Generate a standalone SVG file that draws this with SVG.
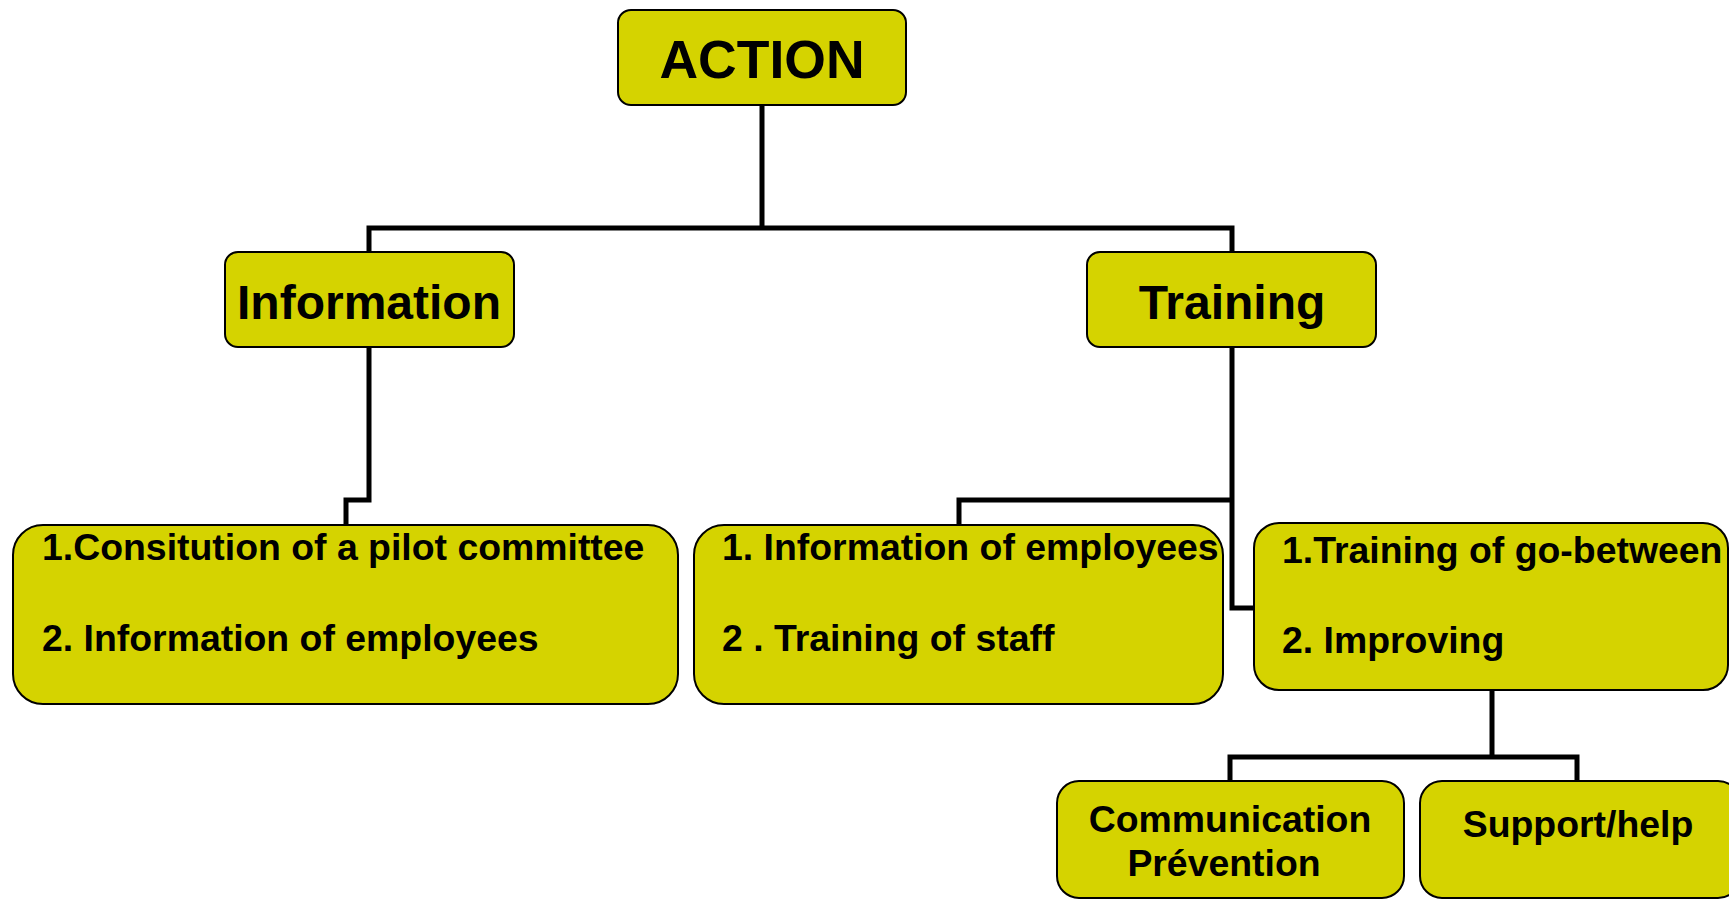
<svg xmlns="http://www.w3.org/2000/svg" width="1729" height="900" viewBox="0 0 1729 900">
<style>
.box{fill:#d5d300;stroke:#000;stroke-width:2}
.t{font-family:"Liberation Sans",Arial,sans-serif;font-weight:bold;fill:#000}
.c{text-anchor:middle}
.s{font-size:37.4px}
.conn{fill:none;stroke:#000;stroke-width:5;stroke-linejoin:miter}
</style>
<rect width="1729" height="900" fill="#fff"/>
<g id="connectors">
<path class="conn" d="M762,105 V228 M369,252 V228 H1232 V252"/>
<path class="conn" d="M369,347 V500 H346 V525"/>
<path class="conn" d="M1232,347 V608 H1254 M1232,500 H959 V525"/>
<path class="conn" d="M1492,690 V757 M1230,781 V757 H1577 V781"/>
</g>
<g id="action">
<rect class="box" x="618" y="10" width="288" height="95" rx="13"/>
<text class="t c" x="762" y="78" font-size="53.5">ACTION</text>
</g>
<g id="information">
<rect class="box" x="225" y="252" width="289" height="95" rx="13"/>
<text class="t c" x="369" y="319" font-size="48">Information</text>
</g>
<g id="training">
<rect class="box" x="1087" y="252" width="289" height="95" rx="13"/>
<text class="t c" x="1232" y="319" font-size="48">Training</text>
</g>
<g id="info-items">
<rect class="box" x="13" y="525" width="665" height="179" rx="30"/>
<text class="t s" x="42" y="560">1.Consitution of a pilot committee</text>
<text class="t s" x="42" y="651">2. Information of employees</text>
</g>
<g id="training-items">
<rect class="box" x="694" y="525" width="529" height="179" rx="30"/>
<text class="t s" x="722" y="560">1. Information of employees</text>
<text class="t s" x="722" y="651">2 . Training of staff</text>
</g>
<g id="gobetween">
<rect class="box" x="1254" y="523" width="474" height="167" rx="25"/>
<text class="t s" x="1282" y="563">1.Training of go-between</text>
<text class="t s" x="1282" y="653">2. Improving</text>
</g>
<g id="communication">
<rect class="box" x="1057" y="781" width="347" height="117" rx="22"/>
<text class="t c s" x="1230" y="832">Communication</text>
<text class="t c s" x="1224" y="876">Prévention</text>
</g>
<g id="support">
<rect class="box" x="1420" y="781" width="320" height="117" rx="22"/>
<text class="t c s" x="1578" y="837">Support/help</text>
</g>
</svg>
